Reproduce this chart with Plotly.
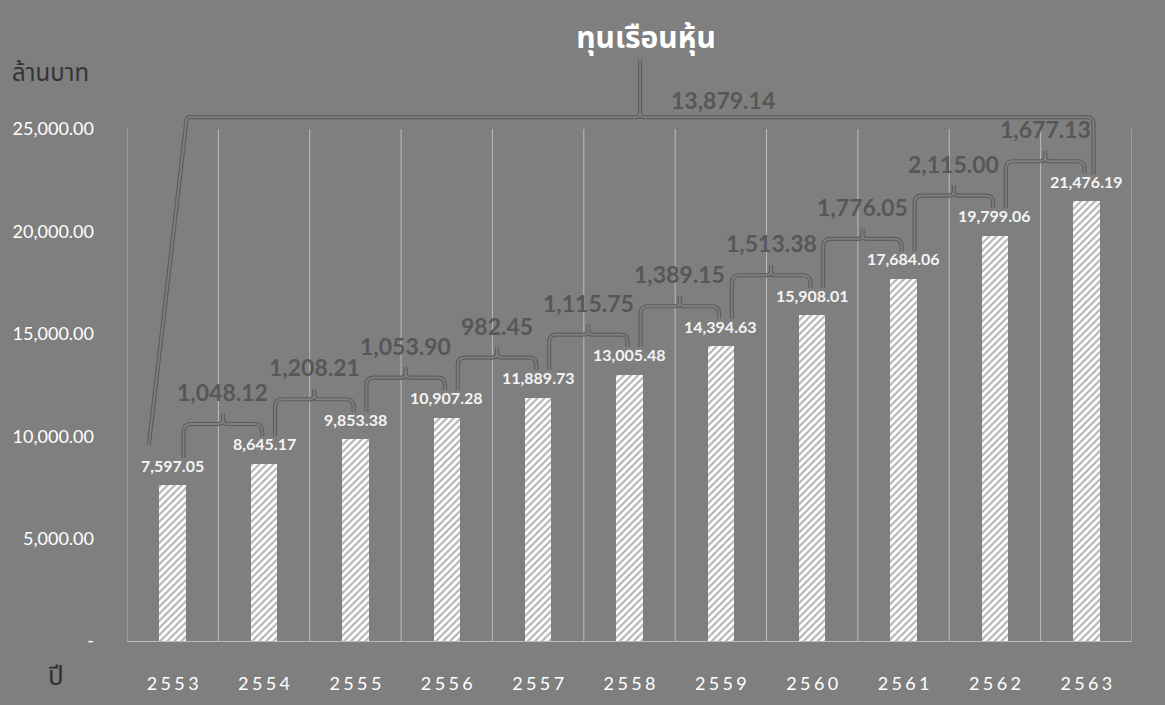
import plotly.graph_objects as go

# ---------------- data ----------------
years = [2553, 2554, 2555, 2556, 2557, 2558, 2559, 2560, 2561, 2562, 2563]
values = [7597.05, 8645.17, 9853.38, 10907.28, 11889.73, 13005.48,
          14394.63, 15908.01, 17684.06, 19799.06, 21476.19]
title_text = "ทุนเรือนหุ้น"
y_title = "ล้านบาท"
x_title = "ปี"
ytick_vals = [0, 5000, 10000, 15000, 20000, 25000]
ytick_text = ["-", "5,000.00", "10,000.00", "15,000.00", "20,000.00", "25,000.00"]
xtick_text = ["\u2009\u200a".join(str(y)) for y in years]

# ---------------- style / layout ----------------
BG = "#7f7f7f"
GRID = "#bcbcbc"
BRACE_DARK = "#5e5e5e"
DIFF_COLOR = "#575757"
FONT = "Lato, Open Sans, Noto Sans, sans-serif"
THAI_FONT = "Noto Sans Thai, Noto Sans, DejaVu Sans, sans-serif"
W, H = 1165, 705
ML, MR, MB, MT = 127, 33, 64, 45
PLOT_H = H - MB - MT
PX_PER_UNIT = 512 / ytick_vals[-1]
YMAX = PLOT_H / PX_PER_UNIT
PLOT_W = W - ML - MR

fig = go.Figure()

fig.add_trace(go.Bar(
    x=years, y=values, width=0.29,
    marker=dict(color="white", line=dict(width=0),
                pattern=dict(shape="/", fgcolor="#6a6a6a", bgcolor="white",
                             size=5, solidity=0.42)),
    hoverinfo="x+y", showlegend=False,
))

shapes = []
# vertical gridlines at category boundaries
for b in [years[0] - 0.5] + [y + 0.5 for y in years]:
    shapes.append(dict(type="line", xref="x", yref="y", x0=b, x1=b,
                       y0=0, y1=ytick_vals[-1], layer="below",
                       line=dict(color=GRID, width=1)))

annotations = []
# value labels
for yr, v in zip(years, values):
    annotations.append(dict(x=yr, y=v, xref="x", yref="y", text=f"{v:,.2f}",
                            showarrow=False, yshift=20,
                            font=dict(family=FONT, size=16, color="#f4f4f4", weight="bold")))

RX = 0.08
RY = 7.5 / PX_PER_UNIT


def add_brace(path):
    shapes.append(dict(type="path", xref="x", yref="y", path=path,
                       line=dict(color=BRACE_DARK, width=4.2)))
    shapes.append(dict(type="path", xref="x", yref="y", path=path,
                       line=dict(color=BG, width=1.8)))


def brace_path(xl, ybl, xr, ybr, yh, ytip, xtop=None, rl=1.0):
    if xtop is None:
        xtop = xl
    xm = (xtop + xr) / 2
    p = (f"M {xl},{ybl} L {xtop},{yh - RY * rl} Q {xtop},{yh} {xtop + RX * rl},{yh} "
         f"L {xm - RX * 0.6},{yh} Q {xm},{yh} {xm},{yh + RY * 0.6} L {xm},{ytip} L {xm},{yh + RY * 0.6} "
         f"Q {xm},{yh} {xm + RX * 0.6},{yh} L {xr - RX},{yh} Q {xr},{yh} {xr},{yh - RY} "
         f"L {xr},{ybr}")
    return p, xm


# year-to-year difference braces
for i in range(len(years) - 1):
    diff = values[i + 1] - values[i]
    xl = years[i] + 0.12
    xr = years[i + 1] - 0.02
    yh = values[i + 1] + 1950
    ybl = values[i] + 1350
    ybr = values[i + 1] + 1350
    ytip = yh + 500
    p, xm = brace_path(xl, ybl, xr, ybr, yh, ytip)
    add_brace(p)
    annotations.append(dict(x=xm, y=yh, xref="x", yref="y", text=f"{diff:,.2f}",
                            showarrow=False, yshift=32,
                            font=dict(family=FONT, size=23, color=DIFF_COLOR, weight="bold")))

# overall brace
total = values[-1] - values[0]
yh_big = max(values) + 4100
p, xm_big = brace_path(years[0] - 0.26, values[0] + 2000, years[-1] + 0.08,
                       values[-1] + 1300, yh_big, yh_big + 2800,
                       xtop=years[0] + 0.15, rl=0.5)
add_brace(p)
annotations.append(dict(x=xm_big, y=yh_big, xref="x", yref="y", text=f"{total:,.2f}",
                        showarrow=False, xshift=83, yshift=17,
                        font=dict(family=FONT, size=23, color=DIFF_COLOR, weight="bold")))

# axis titles
annotations.append(dict(x=(10 - ML) / PLOT_W, y=1 + (MT - 74) / PLOT_H, xref="paper", yref="paper",
                        text=y_title, showarrow=False, xanchor="left", yanchor="middle",
                        font=dict(family=THAI_FONT, size=24, color="#353535")))
annotations.append(dict(x=(56 - ML) / PLOT_W, y=(H - MB - 677) / PLOT_H, xref="paper", yref="paper",
                        text=x_title, showarrow=False, xanchor="center", yanchor="middle",
                        font=dict(family=THAI_FONT, size=26, color="#2e2e2e")))

fig.update_layout(
    width=W, height=H,
    margin=dict(l=ML, r=MR, t=MT, b=MB, pad=0),
    paper_bgcolor=BG, plot_bgcolor=BG,
    title=dict(text=title_text, x=646 / W, xanchor="center", y=1 - 37 / H, yanchor="middle",
               font=dict(family=THAI_FONT, size=30, color="white", weight="bold")),
    shapes=shapes, annotations=annotations,
    bargap=0, showlegend=False,
    xaxis=dict(range=[years[0] - 0.5, years[-1] + 0.5], tickvals=years, ticktext=xtick_text,
               showgrid=False, zeroline=False, showline=True, linecolor=GRID, linewidth=1,
               ticks="", ticklabelstandoff=26,
               tickfont=dict(family=FONT, size=18, color="white")),
    yaxis=dict(range=[0, YMAX], tickvals=ytick_vals, ticktext=ytick_text,
               showgrid=False, zeroline=False, showline=False, ticks="",
               ticklabelstandoff=32,
               tickfont=dict(family=FONT, size=18, color="white")),
)

fig.write_html("out.html", config={"displayModeBar": False},
               post_script="document.body.style.margin='0px';")
